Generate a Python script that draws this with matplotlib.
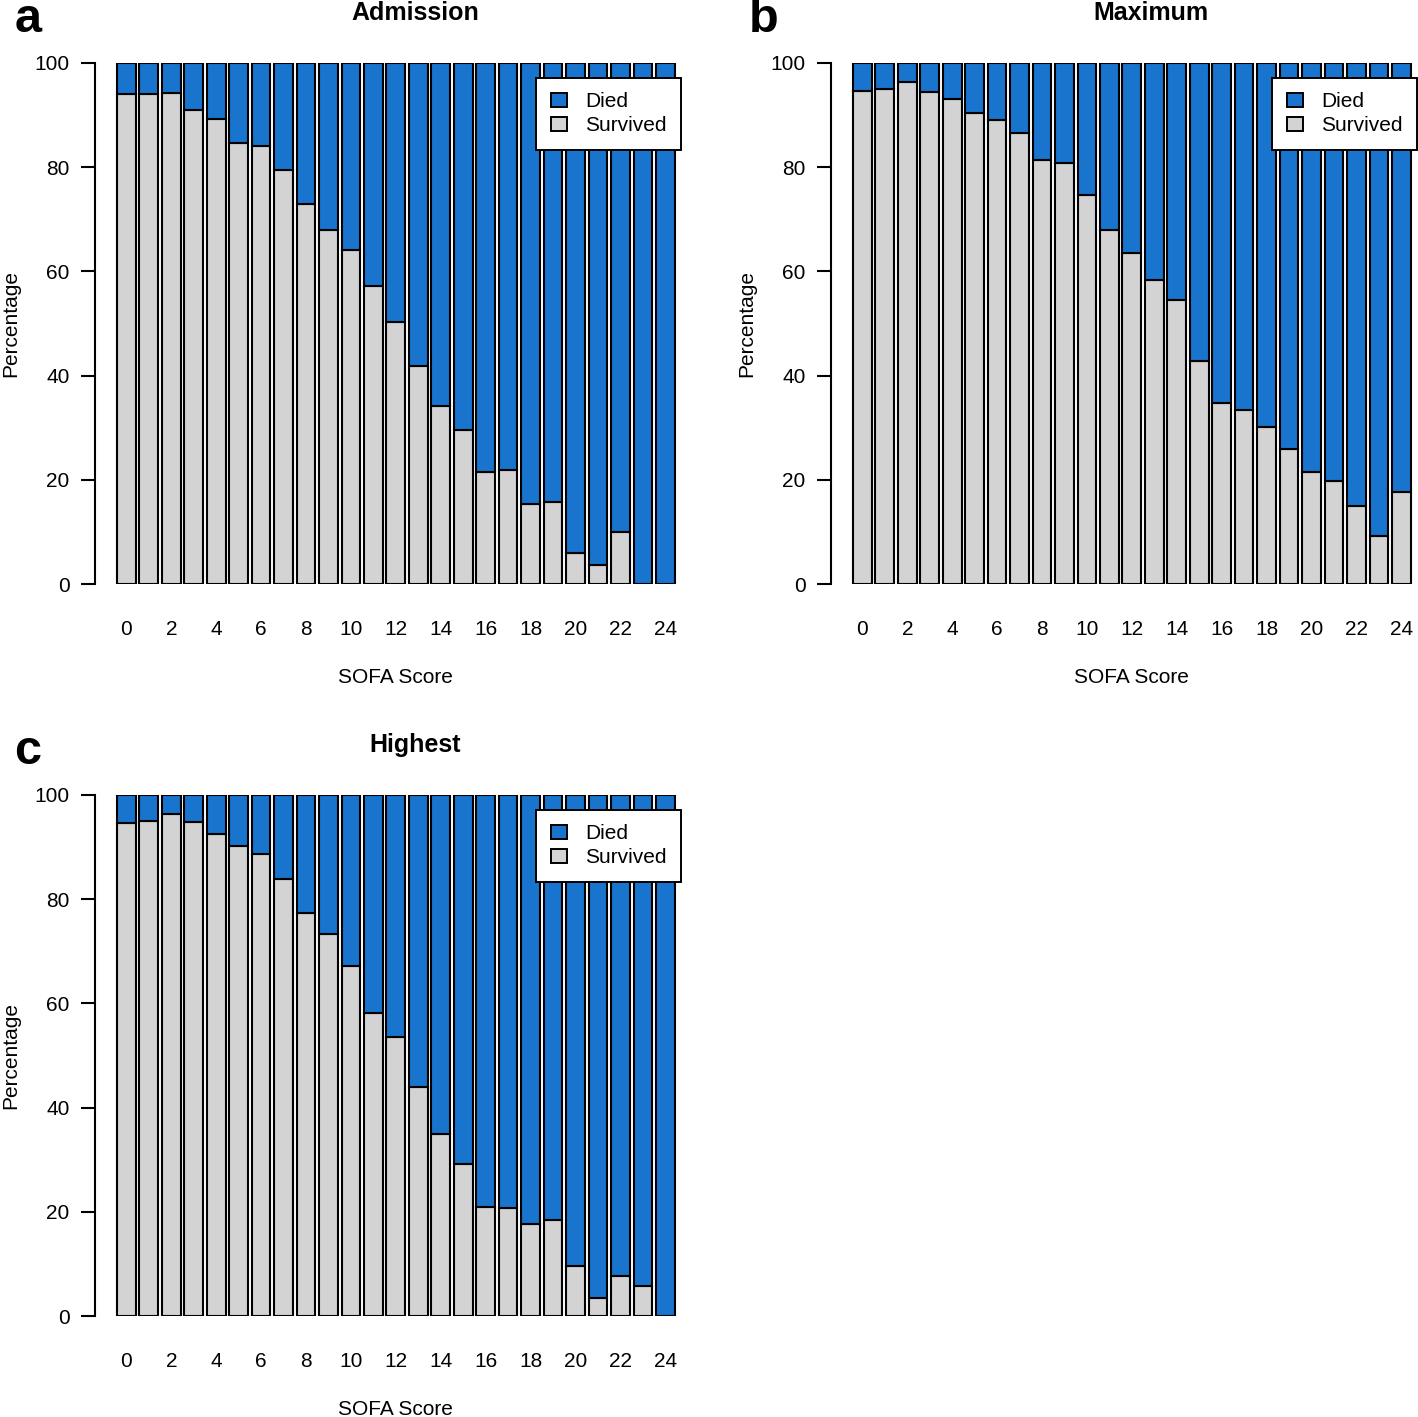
import numpy as np
import matplotlib
matplotlib.use("Agg")
import matplotlib.pyplot as plt
from matplotlib.patches import Patch

plt.rcParams["font.family"] = ["Liberation Sans", "DejaVu Sans"]

scores = list(range(25))
tick_labels = [str(s) for s in scores if s % 2 == 0]

survived_admission = [94.1, 94.0, 94.2, 91.0, 89.3, 84.7, 84.0, 79.5, 72.9, 68.0,
                      64.1, 57.2, 50.2, 41.9, 34.1, 29.6, 21.5, 21.9, 15.3, 15.8,
                      6.0, 3.7, 9.9, 0.0, 0.0]
survived_maximum = [94.6, 95.1, 96.3, 94.4, 93.1, 90.4, 89.0, 86.6, 81.4, 80.8,
                    74.7, 68.0, 63.5, 58.3, 54.6, 42.8, 34.7, 33.4, 30.2, 25.9,
                    21.5, 19.7, 14.9, 9.3, 17.7]
survived_highest = [94.7, 95.1, 96.4, 94.9, 92.5, 90.2, 88.7, 83.9, 77.4, 73.4,
                    67.2, 58.1, 53.6, 43.9, 35.0, 29.1, 21.0, 20.7, 17.6, 18.4,
                    9.6, 3.4, 7.7, 5.8, 0.0]

panels = [("a", "Admission", survived_admission),
          ("b", "Maximum", survived_maximum),
          ("c", "Highest", survived_highest)]

BLUE = "#1874CD"
GREY = "#D3D3D3"
FS = 15

W, H = 1418, 1417
fig = plt.figure(figsize=(W / 100, H / 100), dpi=100)

# pixel boxes: (left, right, top, bottom) of each plot region
boxes = [(94.7, 697.0, 63, 584),
         (830.7, 1433.0, 63, 584),
         (94.7, 697.0, 795, 1316)]
title_x = [415, 1151, 415]

for (letter, title, surv), (l, r, t, b), tx in zip(panels, boxes, title_x):
    ax = fig.add_axes([l / W, 1 - b / H, (r - l) / W, (b - t) / H])
    surv = np.array(surv)
    died = 100 - surv
    x = 0.7 + 1.2 * np.arange(len(scores))
    ax.bar(x, surv, width=1.0, color=GREY, edgecolor="black", linewidth=1.5)
    ax.bar(x, died, bottom=surv, width=1.0, color=BLUE, edgecolor="black", linewidth=1.5)
    ax.set_xlim(-0.992, 31.192)
    ax.set_ylim(0, 100)
    for s in ["top", "right", "bottom"]:
        ax.spines[s].set_visible(False)
    ax.spines["left"].set_linewidth(1.5)
    ax.set_yticks([0, 20, 40, 60, 80, 100])
    ax.tick_params(axis="y", length=10, width=1.5, pad=8, labelsize=FS)
    ax.set_xticks(x[::2])
    ax.set_xticklabels(tick_labels)
    ax.tick_params(axis="x", length=0, pad=26, labelsize=FS)
    ax.set_xlabel("SOFA Score", fontsize=FS, labelpad=21)
    ax.set_ylabel("Percentage", fontsize=FS, labelpad=10)
    leg = ax.legend(handles=[Patch(facecolor=BLUE, edgecolor="black", linewidth=1.4, label="Died"),
                             Patch(facecolor=GREY, edgecolor="black", linewidth=1.4, label="Survived")],
                    loc="upper right", bbox_to_anchor=(0.9734, 0.9712), borderaxespad=0,
                    fancybox=False, edgecolor="black", framealpha=1, fontsize=FS,
                    handlelength=0.77, handleheight=0.63, handletextpad=0.9,
                    labelspacing=0.25, borderpad=0.68)
    leg.get_frame().set_linewidth(1.4)
    fig.text(tx / W, 1 - 13 / H - (t - 63) / H, title, ha="center", va="center",
             fontsize=18, fontweight="bold")
    fig.text((l - 67) / W, 1 - 20 / H - (t - 63) / H, letter, ha="center", va="center",
             fontsize=35, fontweight="bold")

fig.savefig("out.png", dpi=100)
